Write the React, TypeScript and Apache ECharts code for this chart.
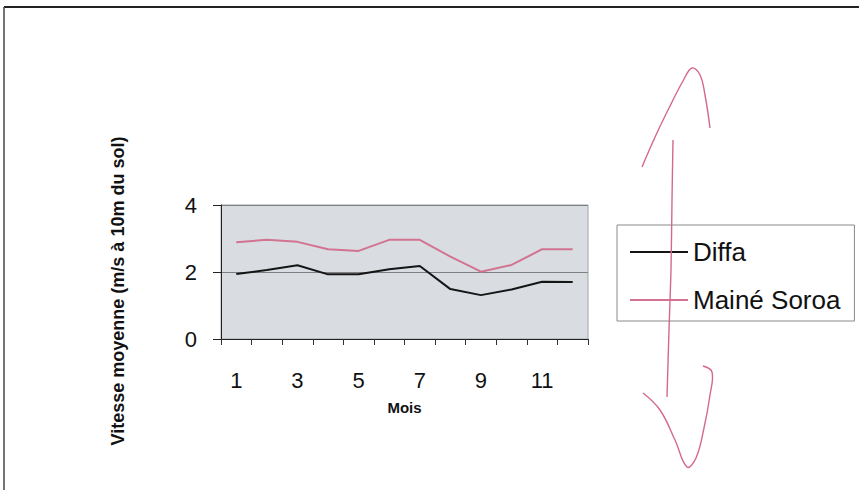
import React, { useEffect, useRef } from "react";
import * as echarts from "echarts";

// Mean monthly wind speed at 10 m above ground
const months = ["1", "2", "3", "4", "5", "6", "7", "8", "9", "10", "11", "12"];
const diffa = [1.94, 2.06, 2.2, 1.93, 1.93, 2.08, 2.18, 1.49, 1.31, 1.48, 1.71, 1.7];
const maineSoroa = [2.89, 2.96, 2.9, 2.68, 2.63, 2.96, 2.96, 2.46, 2.01, 2.21, 2.68, 2.68];
const seriesNames = ["Diffa", "Mainé Soroa"];
const yTitle = "Vitesse moyenne (m/s à 10m du sol)";

const FONT = "Arial, 'Liberation Sans', Helvetica, sans-serif";
const PINK = "#d27391";
const PEN = "#d4698c";

export default function App() {
  const ref = useRef<HTMLDivElement>(null);

  useEffect(() => {
    document.body.style.margin = "0";
    const chart = echarts.init(ref.current!, null, { renderer: "svg" });
    chart.setOption({
      animation: false,
      backgroundColor: "#ffffff",
      grid: {
        left: 221,
        right: 271,
        top: 205,
        bottom: 161,
        show: true,
        backgroundColor: "#d9dde1",
        borderColor: "#a0a4a8",
        borderWidth: 1,
      },
      legend: {
        orient: "vertical",
        left: 617,
        top: 225,
        data: seriesNames,
        icon: "rect",
        itemWidth: 58,
        itemHeight: 2,
        itemGap: 22,
        padding: [14, 14, 8, 13],
        borderColor: "#8a8a8a",
        borderWidth: 1,
        textStyle: { fontFamily: FONT, fontSize: 26, color: "#111" },
      },
      xAxis: {
        type: "category",
        data: months,
        boundaryGap: true,
        name: "Mois",
        nameLocation: "middle",
        nameGap: 61,
        nameTextStyle: { fontFamily: FONT, fontSize: 15, fontWeight: "bold", color: "#111" },
        axisLine: { lineStyle: { color: "#222", width: 1 } },
        axisTick: { show: true, interval: 0, length: 6, lineStyle: { color: "#333" } },
        axisLabel: { interval: 1, margin: 30, fontFamily: FONT, fontSize: 22, color: "#111" },
        splitLine: { show: false },
      },
      yAxis: {
        type: "value",
        min: 0,
        max: 4,
        interval: 2,
        axisLine: { show: true, lineStyle: { color: "#222", width: 1 } },
        axisTick: { show: true, length: 8, lineStyle: { color: "#222" } },
        axisLabel: { margin: 24, fontFamily: FONT, fontSize: 22, color: "#111" },
        splitLine: { show: true, lineStyle: { color: "#7d7f82", width: 1 } },
      },
      series: [
        {
          name: seriesNames[0],
          type: "line",
          data: diffa,
          symbol: "none",
          lineStyle: { color: "#151515", width: 2 },
          itemStyle: { color: "#151515" },
        },
        {
          name: seriesNames[1],
          type: "line",
          data: maineSoroa,
          symbol: "none",
          lineStyle: { color: PINK, width: 2 },
          itemStyle: { color: PINK },
        },
      ],
      graphic: [
        // outer frame (top and left edges)
        { type: "line", shape: { x1: 4, y1: 7, x2: 859, y2: 7 }, style: { stroke: "#222", lineWidth: 2 } },
        { type: "line", shape: { x1: 4, y1: 7, x2: 4, y2: 490 }, style: { stroke: "#444", lineWidth: 1.5 } },
        // vertical y-axis title
        {
          type: "text",
          x: 118,
          y: 291,
          rotation: Math.PI / 2,
          style: {
            text: yTitle,
            fontFamily: FONT,
            fontSize: 18,
            fontWeight: "bold",
            fill: "#111",
            align: "center",
            verticalAlign: "middle",
          },
        },
        // hand-drawn double-headed arrow next to the legend
        {
          type: "polyline",
          z: 100,
          shape: {
            smooth: 0.4,
            points: [[642, 167], [656, 135], [670, 106], [683, 81], [692, 68], [700, 75], [705, 95], [710, 128]],
          },
          style: { stroke: PEN, lineWidth: 1.4, fill: null },
        },
        {
          type: "polyline",
          z: 100,
          shape: {
            smooth: 0.3,
            points: [[673, 140], [672, 200], [671, 270], [669, 330], [667, 397]],
          },
          style: { stroke: PEN, lineWidth: 1.4, fill: null },
        },
        {
          type: "polyline",
          z: 100,
          shape: {
            smooth: 0.4,
            points: [[643, 393], [660, 410], [675, 440], [687, 467], [696, 458], [704, 428], [710, 395], [712, 372], [703, 366]],
          },
          style: { stroke: PEN, lineWidth: 1.4, fill: null },
        },
      ],
    });
    return () => chart.dispose();
  }, []);

  return <div ref={ref} style={{ width: 859, height: 500 }} />;
}
